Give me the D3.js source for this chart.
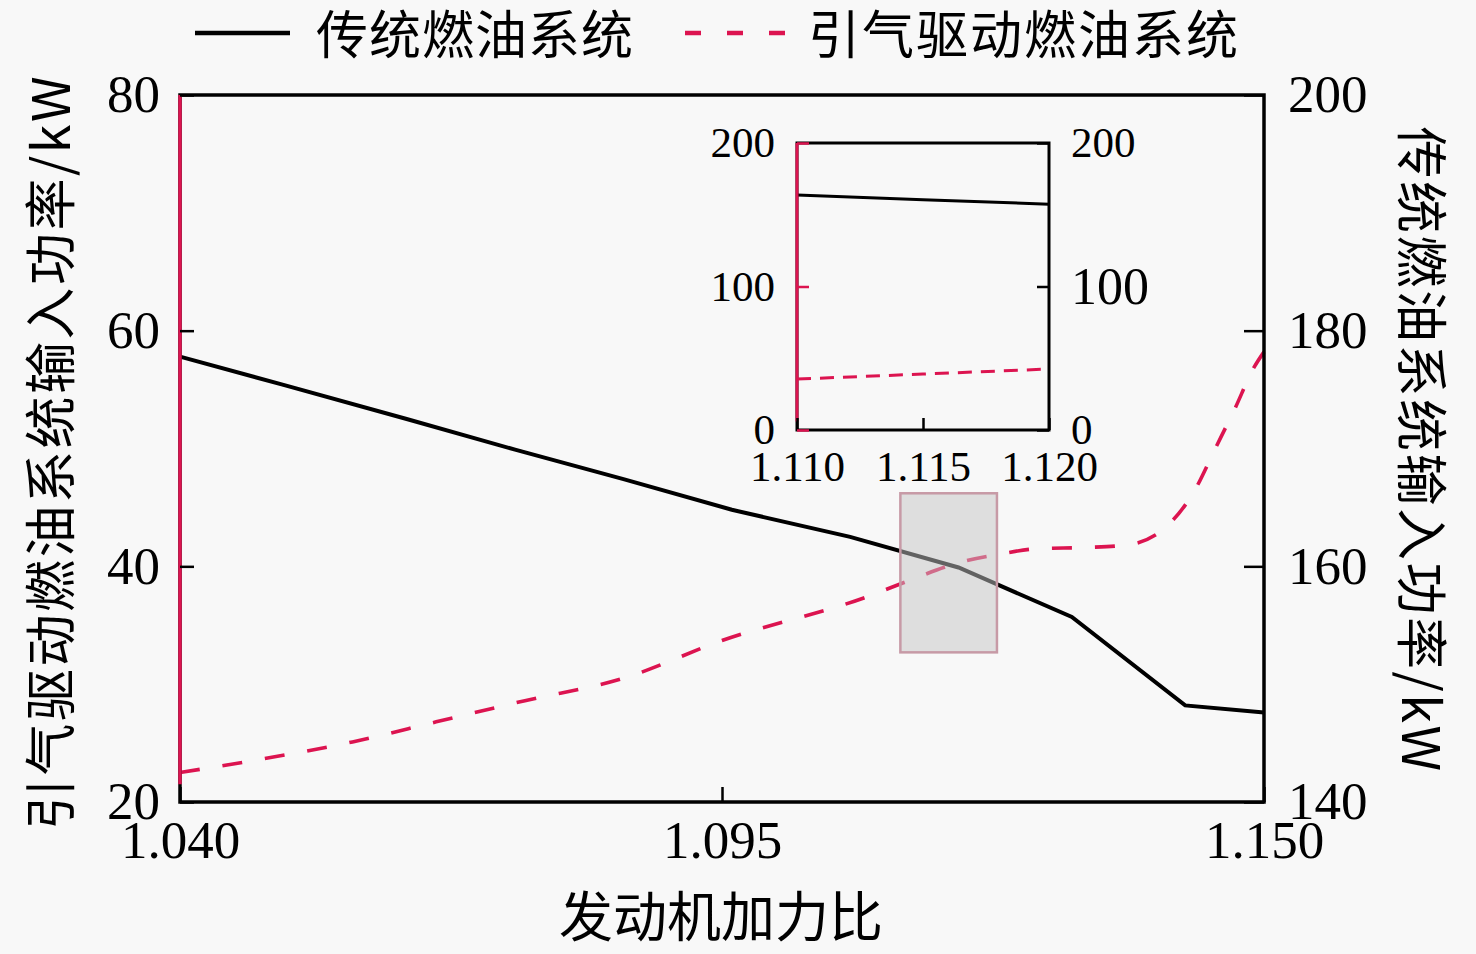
<!DOCTYPE html>
<html>
<head>
<meta charset="utf-8">
<script src="https://cdn.jsdelivr.net/npm/d3@7"></script>
<style>
  body { margin: 0; background: #f8f8f8; }
  text { fill: #000; }
  .num { font-family: "Liberation Serif", "Times New Roman", serif; }
  .cjk { font-family: "Noto Sans CJK SC", sans-serif; }
</style>
</head>
<body>
<div id="chart"></div>
<script>
// engine afterburner ratio (x) and power values
var blackX = [1.040, 1.0505, 1.063, 1.074, 1.085, 1.096, 1.108, 1.119, 1.1305, 1.142, 1.150];
var blackY = [177.8, 175.4, 172.5, 169.9, 167.4, 164.8, 162.5, 159.9, 155.7, 148.2, 147.6];

var redX = [1.040, 1.048, 1.0575, 1.066, 1.075, 1.085, 1.095, 1.110, 1.114, 1.119, 1.123,
            1.127, 1.132, 1.136, 1.140, 1.143, 1.145, 1.147, 1.149, 1.150];
var redY = [22.5, 23.6, 25.1, 26.8, 28.6, 30.5, 33.7, 37.5, 38.8, 40.3, 41.0,
            41.5, 41.6, 41.8, 43.3, 46.5, 49.9, 53.3, 56.9, 58.2];

// inset (zoomed window)
var insetX = [1.110, 1.115, 1.120];
var insetBlack = [163.8, 160.4, 157.4];
var insetRed = [35.5, 39.0, 42.5];

var xTicks = [1.040, 1.095, 1.150];
var leftTicks = [20, 40, 60, 80];
var rightTicks = [140, 160, 180, 200];
var insetXTicks = [1.110, 1.115, 1.120];
var insetYTicks = [0, 100, 200];

var seriesNames = ["传统燃油系统", "引气驱动燃油系统"];
var xTitle = "发动机加力比";
var leftTitle = "引气驱动燃油系统输入功率/kW";
var rightTitle = "传统燃油系统输入功率/kW";

// highlighted region, in data units (x, left axis)
var boxX = [1.1131, 1.1229];
var boxY = [32.7, 46.2];

var W = 1476, H = 954;
var red = "#dc1450";

var svg = d3.select("#chart").append("svg")
    .attr("width", W).attr("height", H);

var x = d3.scaleLinear().domain([1.040, 1.150]).range([180, 1264]);
var yL = d3.scaleLinear().domain([20, 80]).range([802, 95]);
var yR = d3.scaleLinear().domain([140, 200]).range([802, 95]);

// lines
var blackLine = d3.line()
    .x(function(d, i) { return x(blackX[i]); })
    .y(function(d) { return yR(d); });
var redLine = d3.line()
    .curve(d3.curveMonotoneX)
    .x(function(d, i) { return x(redX[i]); })
    .y(function(d) { return yL(d); });

svg.append("path").datum(blackY)
    .attr("d", blackLine)
    .attr("fill", "none").attr("stroke", "#000").attr("stroke-width", 4);

svg.append("path").datum(redY)
    .attr("d", redLine)
    .attr("fill", "none").attr("stroke", red).attr("stroke-width", 3.6)
    .attr("stroke-dasharray", "20,23");

// grey highlight box over the lines
svg.append("rect")
    .attr("x", x(boxX[0])).attr("y", yL(boxY[1]))
    .attr("width", x(boxX[1]) - x(boxX[0]))
    .attr("height", yL(boxY[0]) - yL(boxY[1]))
    .attr("fill", "#c4c4c4").attr("fill-opacity", 0.5)
    .attr("stroke", "#c79aa6").attr("stroke-width", 2.5);

// frame
svg.append("rect")
    .attr("x", 180).attr("y", 95).attr("width", 1084).attr("height", 707)
    .attr("fill", "none").attr("stroke", "#000").attr("stroke-width", 3.5);
svg.append("line")
    .attr("x1", 180).attr("x2", 180).attr("y1", yL(80)).attr("y2", yL(21.5))
    .attr("stroke", red).attr("stroke-width", 3.5);

// axes
function styleAxis(g, size) {
  g.select(".domain").remove();
  g.selectAll(".tick line").attr("stroke", "#000").attr("stroke-width", 2.5);
  g.selectAll(".tick text").attr("class", "num").style("font-size", size + "px")
    .attr("fill", "#000");
}

svg.append("g")
    .attr("transform", "translate(0,802)")
    .call(d3.axisBottom(x).tickValues(xTicks).tickFormat(d3.format(".3f"))
      .tickSizeInner(-15).tickSizeOuter(0).tickPadding(18))
    .call(styleAxis, 53);

svg.append("g")
    .attr("transform", "translate(180,0)")
    .call(d3.axisLeft(yL).tickValues(leftTicks)
      .tickSizeInner(-14).tickSizeOuter(0).tickPadding(20))
    .call(styleAxis, 53);

svg.append("g")
    .attr("transform", "translate(1264,0)")
    .call(d3.axisRight(yR).tickValues(rightTicks)
      .tickSizeInner(-20).tickSizeOuter(0).tickPadding(24))
    .call(styleAxis, 53);

// axis titles
svg.append("text").attr("class", "cjk")
    .attr("transform", "translate(52,452) rotate(-90)")
    .attr("text-anchor", "middle").attr("dy", "0.35em")
    .style("font-size", "52px").style("letter-spacing", "2.5px").text(leftTitle);

svg.append("text").attr("class", "cjk")
    .attr("transform", "translate(1420,450) rotate(90)")
    .attr("text-anchor", "middle").attr("dy", "0.35em")
    .style("font-size", "52px").style("letter-spacing", "2.5px").text(rightTitle);

svg.append("text").attr("class", "cjk")
    .attr("x", 721).attr("y", 918).attr("dy", "0.35em")
    .attr("text-anchor", "middle")
    .style("font-size", "54px").text(xTitle);

// legend
var lg = svg.append("g");
lg.append("line").attr("x1", 195).attr("x2", 290).attr("y1", 33).attr("y2", 33)
    .attr("stroke", "#000").attr("stroke-width", 4.5);
lg.append("text").attr("class", "cjk").attr("x", 316).attr("y", 36).attr("dy", "0.35em")
    .style("font-size", "52px").style("letter-spacing", "1px").text(seriesNames[0]);
lg.append("line").attr("x1", 685).attr("x2", 795).attr("y1", 33).attr("y2", 33)
    .attr("stroke", red).attr("stroke-width", 4.5).attr("stroke-dasharray", "16,26");
lg.append("text").attr("class", "cjk").attr("x", 808).attr("y", 36).attr("dy", "0.35em")
    .style("font-size", "52px").style("letter-spacing", "2px").text(seriesNames[1]);

// inset
var ix = d3.scaleLinear().domain([1.110, 1.120]).range([797, 1049]);
var iy = d3.scaleLinear().domain([0, 200]).range([430, 143]);
var inset = svg.append("g");

inset.append("rect")
    .attr("x", 797).attr("y", 143).attr("width", 252).attr("height", 287)
    .attr("fill", "#f8f8f8").attr("stroke", "#000").attr("stroke-width", 3);

inset.append("path").datum(insetBlack)
    .attr("d", d3.line().x(function(d, i) { return ix(insetX[i]); }).y(function(d) { return iy(d); }))
    .attr("fill", "none").attr("stroke", "#000").attr("stroke-width", 3);
inset.append("path").datum(insetRed)
    .attr("d", d3.line().x(function(d, i) { return ix(insetX[i]); }).y(function(d) { return iy(d); }))
    .attr("fill", "none").attr("stroke", red).attr("stroke-width", 3)
    .attr("stroke-dasharray", "14,9");

inset.append("line")
    .attr("x1", 797).attr("x2", 797).attr("y1", iy(200)).attr("y2", iy(6))
    .attr("stroke", red).attr("stroke-width", 3);

inset.append("g")
    .attr("transform", "translate(0,430)")
    .call(d3.axisBottom(ix).tickValues(insetXTicks).tickFormat(d3.format(".3f"))
      .tickSizeInner(-12).tickSizeOuter(0).tickPadding(20))
    .call(styleAxis, 43);

var il = inset.append("g")
    .attr("transform", "translate(797,0)")
    .call(d3.axisLeft(iy).tickValues(insetYTicks)
      .tickSizeInner(-12).tickSizeOuter(0).tickPadding(22))
    .call(styleAxis, 43);
il.selectAll(".tick line").attr("stroke", red);

var ir = inset.append("g")
    .attr("transform", "translate(1049,0)")
    .call(d3.axisRight(iy).tickValues(insetYTicks)
      .tickSizeInner(-12).tickSizeOuter(0).tickPadding(22))
    .call(styleAxis, 43);
ir.selectAll(".tick text").filter(function(d) { return d === 100; })
    .style("font-size", "52px");
</script>
</body>
</html>
